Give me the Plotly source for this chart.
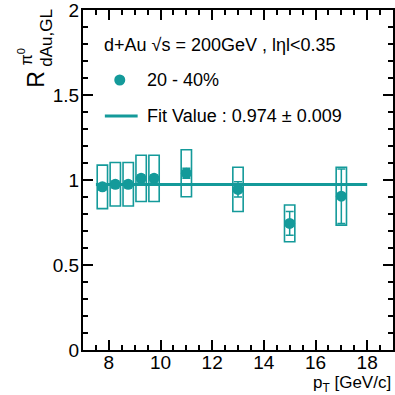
import plotly.graph_objects as go

# ---- data ----
pt = [7.75, 8.25, 8.75, 9.25, 9.75, 11.0, 13.0, 15.0, 17.0]
raa = [0.96, 0.975, 0.975, 1.01, 1.01, 1.04, 0.945, 0.745, 0.905]
stat_err = [0.02, 0.02, 0.02, 0.02, 0.02, 0.03, 0.045, 0.07, 0.16]
sys_err = [0.128, 0.128, 0.128, 0.136, 0.136, 0.138, 0.13, 0.108, 0.17]
box_width = 0.4
fit_value = 0.974
fit_err = 0.009
fit_range = [7.5, 18.0]
y_ticks = [0, 0.5, 1, 1.5, 2]
y_ticktext = ["0", "0.5", "1", "1.5", "2"]
x_ticks = [8, 10, 12, 14, 16, 18]

TEAL = "#149a9a"
FONT = "Liberation Sans, Arial, Helvetica, sans-serif"

fig = go.Figure()

# systematic boxes
fig.add_trace(go.Bar(
    x=pt,
    y=[2 * s for s in sys_err],
    base=[v - s for v, s in zip(raa, sys_err)],
    width=box_width,
    marker=dict(color="rgba(0,0,0,0)", line=dict(color=TEAL, width=1.6)),
    showlegend=False, hoverinfo="skip",
))

# fit line
fig.add_trace(go.Scatter(
    x=fit_range, y=[fit_value, fit_value], mode="lines",
    line=dict(color=TEAL, width=3), showlegend=False,
))

# data points with stat errors
fig.add_trace(go.Scatter(
    x=pt, y=raa, mode="markers",
    marker=dict(color=TEAL, size=11, symbol="circle"),
    error_y=dict(type="data", array=stat_err, color=TEAL, thickness=1.5, width=4),
    showlegend=False,
))

# plot area geometry (pixels) for paper conversions
L, R_, T, B = 83, 395, 10, 350
W, H = R_ - L, B - T
def px(xp):
    return (xp - L) / W
def py(yp):
    return (B - yp) / H

annotations = [
    dict(text="d+Au \u221As = 200GeV , l\u03b7l<0.35", x=px(102), y=py(45),
         xanchor="left", yanchor="middle", font=dict(size=18)),
    dict(text="20 - 40%", x=px(145), y=py(80),
         xanchor="left", yanchor="middle", font=dict(size=18)),
    dict(text=f"Fit Value : {fit_value:.3f} \u00b1 {fit_err:.3f}", x=px(145), y=py(116),
         xanchor="left", yanchor="middle", font=dict(size=18)),
    # y-axis title pieces
    dict(text="R", x=px(35.5), y=py(79), xanchor="center", yanchor="middle",
         textangle=-90, font=dict(size=23)),
    dict(text="dAu,GL", x=px(46), y=py(37.5), xanchor="center", yanchor="middle",
         textangle=-90, font=dict(size=17)),
    dict(text="\u03c0<sup>0</sup>", x=px(25), y=py(57), xanchor="center", yanchor="middle",
         textangle=-90, font=dict(size=16)),
    # x-axis title
    dict(text="p<sub>T</sub> [GeV/c]", x=1.0, y=py(384), xanchor="right", yanchor="middle",
         font=dict(size=17)),
]
for a in annotations:
    a.update(xref="paper", yref="paper", showarrow=False)
    a["font"].update(family=FONT, color="black")

shapes = [
    dict(type="circle", xref="paper", yref="paper", xsizemode="pixel", ysizemode="pixel",
         xanchor=px(120), yanchor=py(80), x0=-5.5, x1=5.5, y0=-5.5, y1=5.5,
         fillcolor=TEAL, line=dict(color=TEAL, width=0)),
    dict(type="line", xref="paper", yref="paper", x0=px(105), x1=px(138),
         y0=py(116), y1=py(116), line=dict(color=TEAL, width=3)),
]

axis_common = dict(
    showline=True, linecolor="black", linewidth=2, mirror="allticks",
    ticks="inside", tickcolor="black", tickwidth=1.5, ticklen=10,
    showgrid=False, zeroline=False, ticklabeloverflow="allow",
    tickfont=dict(family=FONT, size=19, color="black"),
)

fig.update_layout(
    width=395, height=395,
    margin=dict(l=L, r=395 - R_, t=T, b=395 - B, pad=0),
    paper_bgcolor="white", plot_bgcolor="white",
    showlegend=False,
    annotations=annotations, shapes=shapes,
    xaxis=dict(range=[7, 19], tickmode="array", tickvals=x_ticks,
               ticklabelstandoff=-6,
               minor=dict(dtick=0.5, tick0=0, ticks="inside", ticklen=5, tickcolor="black", tickwidth=1.5),
               **axis_common),
    yaxis=dict(range=[0, 2.0005], tickmode="array", tickvals=y_ticks, ticktext=y_ticktext,
               ticklabelstandoff=-2,
               minor=dict(dtick=0.1, tick0=0, ticks="inside", ticklen=5, tickcolor="black", tickwidth=1.5),
               **axis_common),
    barmode="overlay",
)

fig.write_html("out.html")
